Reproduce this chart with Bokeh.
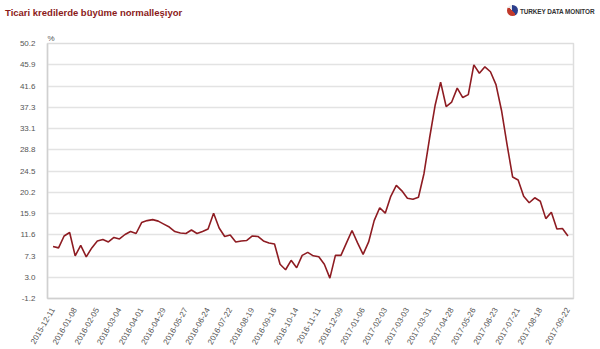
import math
from bokeh.plotting import figure
from bokeh.models import FixedTicker, Range1d, Title, Div
from bokeh.layouts import column
from bokeh.embed import file_html
from bokeh.resources import INLINE

# weekly observations (index of week starting 2015-12-11)
values = [9.3, 9.0, 11.4, 12.1, 7.4, 9.5, 7.2, 9.0, 10.4, 10.7,
          10.2, 11.1, 10.8, 11.7, 12.3, 11.9, 14.1, 14.5, 14.7, 14.4,
          13.8, 13.2, 12.3, 12.0, 11.9, 12.6, 11.9, 12.3, 12.8, 16.0,
          13.0, 11.3, 11.6, 10.2, 10.4, 10.5, 11.4, 11.3, 10.4, 10.0,
          9.8, 5.7, 4.6, 6.5, 5.0, 7.5, 8.1, 7.4, 7.2, 5.7,
          2.9, 7.5, 7.5, 10.0, 12.5, 10.0, 7.7, 10.2, 14.5, 17.1,
          16.0, 19.4, 21.6, 20.5, 19.0, 18.8, 19.2, 24.0, 31.1, 37.7,
          42.4, 37.5, 38.4, 41.2, 39.3, 39.9, 45.9, 44.2, 45.5, 44.5,
          41.9, 36.7, 29.8, 23.3, 22.7, 19.4, 18.1, 19.1, 18.4, 14.9,
          16.2, 12.8, 12.9, 11.4]
weeks = list(range(len(values)))

tick_weeks = [0, 4, 8, 12, 16, 20, 24, 28, 32, 36, 40, 44, 48, 52, 56, 60,
              64, 68, 72, 76, 80, 84, 88, 93]
tick_labels = ["2015-12-11", "2016-01-08", "2016-02-05", "2016-03-04",
               "2016-04-01", "2016-04-29", "2016-05-27", "2016-06-24",
               "2016-07-22", "2016-08-19", "2016-09-16", "2016-10-14",
               "2016-11-11", "2016-12-09", "2017-01-06", "2017-02-03",
               "2017-03-03", "2017-03-31", "2017-04-28", "2017-05-26",
               "2017-06-23", "2017-07-21", "2017-08-18", "2017-09-22"]
y_ticks = [-1.2, 3.0, 7.3, 11.6, 15.9, 20.2, 24.5, 28.8, 33.1, 37.3, 41.6, 45.9, 50.2]

title_text = "Ticari kredilerde büyüme normalleşiyor"
brand_text = "TURKEY DATA MONITOR"

HEADER_H = 30
header = Div(
    width=600, height=HEADER_H, margin=(0, 0, 0, 0),
    text=(
        '<div style="position:relative;width:600px;height:30px;">'
        '<span style="position:absolute;left:5px;top:6px;white-space:nowrap;'
        'font-family:\'Liberation Sans\';font-weight:bold;font-size:9.5px;'
        f'color:#8b1a1a;">{title_text}</span>'
        '<span style="position:absolute;left:507px;top:5px;width:11px;height:11px;'
        'border-radius:50%;background:conic-gradient(#2c3e8c 0 40%, #c0392b 40% 85%, '
        '#e8e8e8 85% 100%);"></span>'
        '<span style="position:absolute;left:520px;top:7px;white-space:nowrap;'
        'font-family:\'Liberation Sans\';font-weight:bold;font-size:6.4px;'
        f'color:#333333;letter-spacing:-0.1px;">{brand_text}</span>'
        '</div>'
    ),
)

p = figure(width=600, height=349 - HEADER_H, output_backend="svg",
           toolbar_location=None, min_border_left=47, min_border_right=27,
           min_border_top=13, min_border_bottom=42,
           background_fill_color="white", border_fill_color="white")
p.x_range = Range1d(-1.0, 94.0)
p.y_range = Range1d(-1.2, 50.2)

p.line(weeks, values, line_color="#8e1c22", line_width=1.6)

p.xaxis.ticker = FixedTicker(ticks=tick_weeks)
p.xaxis.major_label_overrides = {w: l for w, l in zip(tick_weeks, tick_labels)}
p.xaxis.major_label_orientation = math.pi / 3
p.yaxis.ticker = FixedTicker(ticks=y_ticks)
p.yaxis.major_label_overrides = {v: f"{v:.1f}" for v in y_ticks}

for ax in (p.xaxis[0], p.yaxis[0]):
    ax.major_label_text_font = "Liberation Sans"
    ax.major_label_text_font_size = "8px"
    ax.major_label_text_color = "#555555"
    ax.major_tick_line_color = None
    ax.minor_tick_line_color = None
    ax.axis_line_color = "#d0d0d0"
    ax.axis_line_width = 1.5
p.xaxis.major_label_standoff = 4
p.yaxis.major_label_standoff = 6

p.xgrid.grid_line_color = None
p.ygrid.grid_line_color = "#e3e3e3"
p.ygrid.grid_line_width = 1.5
p.outline_line_color = "#dddddd"
p.outline_line_width = 1.5

p.add_layout(Title(text="%", align="left", text_font="Liberation Sans",
                   text_font_size="8px", text_font_style="normal",
                   text_color="#555555", standoff=1, offset=0), "above")

layout = column(header, p, spacing=0)
open("out.html", "w").write(file_html(layout, INLINE))
